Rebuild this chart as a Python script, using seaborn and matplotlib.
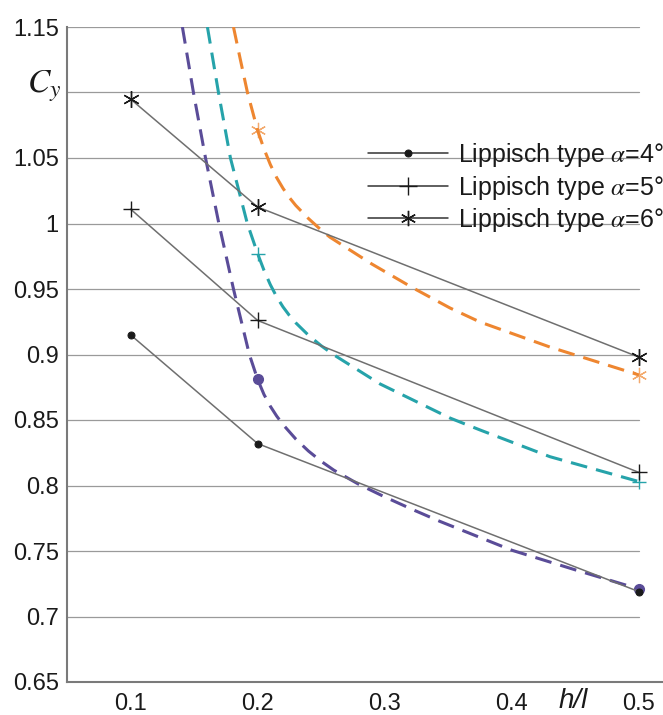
import matplotlib
matplotlib.use("Agg")
import matplotlib.pyplot as plt
import seaborn as sns
import numpy as np

# ---- data ----
hl = [0.1, 0.2, 0.5]
cy_a4 = [0.915, 0.832, 0.719]
cy_a5 = [1.011, 0.926, 0.810]
cy_a6 = [1.095, 1.0126, 0.898]
labels = [r"Lippisch type $\alpha$=4°", r"Lippisch type $\alpha$=5°", r"Lippisch type $\alpha$=6°"]

purple_x = [0.1408, 0.1495, 0.159, 0.1695, 0.181, 0.1935, 0.2, 0.205, 0.21, 0.215, 0.22, 0.23,
            0.24, 0.25, 0.26, 0.28, 0.3, 0.3223, 0.3435, 0.4, 0.45, 0.5]
purple_y = [1.15, 1.10, 1.05, 1.00, 0.95, 0.90, 0.881, 0.8695, 0.8605, 0.853, 0.8465, 0.8355,
            0.8263, 0.8185, 0.8117, 0.8007, 0.7913, 0.7815, 0.7726, 0.7506, 0.7356, 0.721]
teal_x = [0.1605, 0.1692, 0.1786, 0.1919, 0.2, 0.205, 0.21, 0.215, 0.22, 0.225, 0.23, 0.24,
          0.25, 0.26, 0.2964, 0.3514, 0.375, 0.43, 0.5]
teal_y = [1.15, 1.10, 1.05, 1.00, 0.977, 0.9643, 0.9533, 0.944, 0.9363, 0.9298, 0.9242, 0.9147,
          0.9067, 0.8997, 0.8775, 0.8515, 0.8424, 0.822, 0.803]
orange_x = [0.181, 0.186, 0.192, 0.2, 0.205, 0.21, 0.215, 0.22, 0.225, 0.23, 0.24, 0.25, 0.257,
            0.29, 0.3223, 0.3514, 0.375, 0.43, 0.5]
orange_y = [1.15, 1.127, 1.10, 1.071, 1.057, 1.045, 1.035, 1.0268, 1.0198, 1.0138, 1.0038, 0.995,
            0.9895, 0.969, 0.9508, 0.9355, 0.9248, 0.9057, 0.8844]
mark_x = [0.2, 0.5]
purple_mark_y = [0.881, 0.721]
teal_mark_y = [0.977, 0.803]
orange_mark_y = [1.071, 0.8844]

yticks = [0.65, 0.7, 0.75, 0.8, 0.85, 0.9, 0.95, 1.0, 1.05, 1.1, 1.15]
ytick_labels = ["0.65", "0.7", "0.75", "0.8", "0.85", "0.9", "0.95", "1", "1.05", "", "1.15"]
xticks = [0.1, 0.2, 0.3, 0.4, 0.5]
xtick_labels = ["0.1", "0.2", "0.3", "0.4", "0.5"]

# ---- style ----
sns.set_theme(style="white")
plt.rcParams['font.family'] = ['Liberation Sans', 'DejaVu Sans']
plt.rcParams['mathtext.fontset'] = 'stix'

PURPLE = '#5a4c98'
TEAL = '#26a3aa'
ORANGE = '#ee8630'
GRAY = '#6f6f6f'
SPINE = '#7a7a7a'

fig = plt.figure(figsize=(6.63, 7.15), dpi=100)
ax = fig.add_axes([67/663, 33/715, 1 - 67/663, (682-27)/715])
ax.set_xlim(0.05, 0.519)
ax.set_ylim(0.65, 1.15)

# gridlines ending at 0.5
for yv in yticks[1:]:
    ax.plot([0.05, 0.5], [yv, yv], color='#9a9a9a', lw=0.9, zorder=0.5)

dash = (0, (5.5, 3.0))
sns.lineplot(x=purple_x, y=purple_y, ax=ax, color=PURPLE, lw=2.2, linestyle=dash, sort=False, zorder=2)
sns.lineplot(x=teal_x, y=teal_y, ax=ax, color=TEAL, lw=2.2, linestyle=dash, sort=False, zorder=2)
sns.lineplot(x=orange_x, y=orange_y, ax=ax, color=ORANGE, lw=2.2, linestyle=dash, sort=False, zorder=2)

ax.plot(mark_x, purple_mark_y, ls='none', marker='o', ms=7, color=PURPLE, zorder=3)
ax.plot(mark_x, teal_mark_y, ls='none', marker='+', ms=10, mew=1.0, color=TEAL, zorder=3)
ax.plot(mark_x, orange_mark_y, ls='none', marker=(6, 2, 0), ms=11, mew=0.9, color=ORANGE, alpha=0.7, zorder=3)

sns.lineplot(x=hl, y=cy_a4, ax=ax, color=GRAY, lw=1.1, marker='o', ms=5,
             markerfacecolor='k', markeredgecolor='k', label=labels[0], sort=False, zorder=4)
sns.lineplot(x=hl, y=cy_a5, ax=ax, color=GRAY, lw=1.1, marker='+', ms=12, mew=1.0,
             markerfacecolor='k', markeredgecolor='k', label=labels[1], sort=False, zorder=4)
sns.lineplot(x=hl, y=cy_a6, ax=ax, color=GRAY, lw=1.1, marker=(6, 2, 0), ms=12, mew=1.0,
             markerfacecolor='k', markeredgecolor='k', label=labels[2], sort=False, zorder=4)

ax.set_xticks(xticks)
ax.set_xticklabels(xtick_labels)
ax.set_yticks(yticks)
ax.set_yticklabels(ytick_labels)
ax.tick_params(axis='both', direction='in', length=5, width=1, color=SPINE,
               labelsize=17, labelcolor='#1a1a1a')
ax.tick_params(axis='x', pad=8)
ax.tick_params(axis='y', pad=6)
for s in ['top', 'right']:
    ax.spines[s].set_visible(False)
for s in ['left', 'bottom']:
    ax.spines[s].set_color(SPINE)
    ax.spines[s].set_linewidth(1.5)
ax.set_xlabel("")
ax.set_ylabel("")

leg = ax.legend(loc='upper left', bbox_to_anchor=(368/663, 1 - 141/715), bbox_transform=fig.transFigure,
                frameon=False, fontsize=18, handlelength=3.2, handletextpad=0.4,
                labelspacing=0.18, borderpad=0, borderaxespad=0)
for t in leg.get_texts():
    t.set_color('#1a1a1a')
for h, ms in zip(leg.legend_handles, [5, 13, 11]):
    h.set_color('#333333')
    h.set_markersize(ms)

fig.text(27/663, 1 - 93/715, r"$C_y$", fontsize=24, va='baseline', ha='left', color='#1a1a1a')
fig.text(559/663, 1 - 708/715, "h/l", fontsize=20, style='italic', va='baseline', ha='left',
         color='#1a1a1a')

fig.savefig("out.png", dpi=100)
